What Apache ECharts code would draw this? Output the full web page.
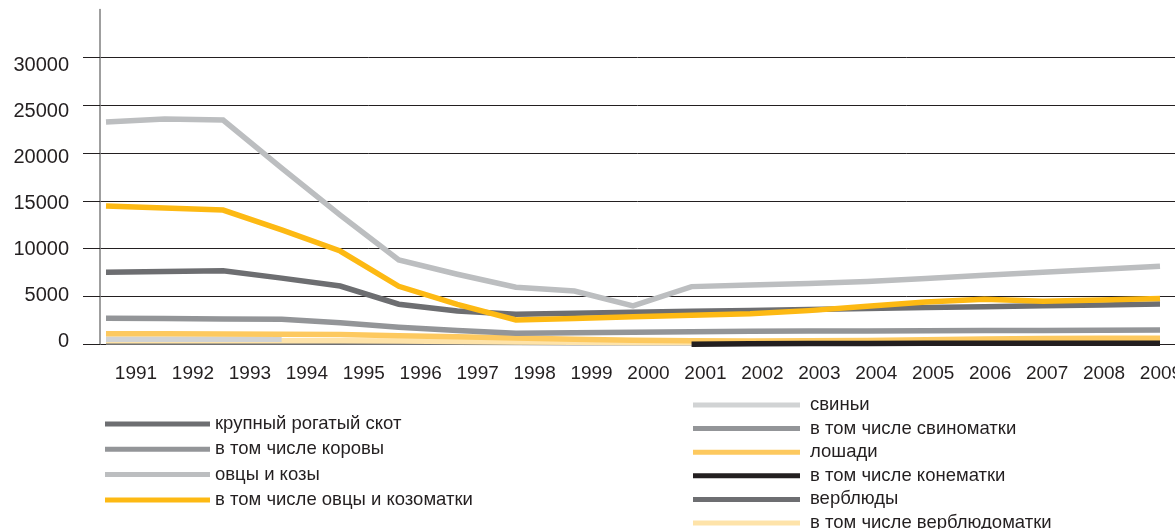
<!DOCTYPE html>
<html><head><meta charset="utf-8">
<script src="https://cdn.jsdelivr.net/npm/echarts@6/dist/echarts.min.js"></script>
<style>html,body{margin:0;padding:0;background:#fff}#c{width:1175px;height:529px}</style>
</head><body><div id="c"></div>
<script>
const years = ['1991','1992','1993','1994','1995','1996','1997','1998','1999','2000','2001','2002','2003','2004','2005','2006','2007','2008','2009'];
const yTicks = [0, 5000, 10000, 15000, 20000, 25000, 30000];

const cattle     = [7520, 7600, 7690, 6920, 6090, 4190, 3480, 3140, 3250, 3340, 3450, 3540, 3640, 3740, 3840, 3930, 4020, 4120, 4210];
const cows       = [2720, 2690, 2650, 2620, 2250, 1790, 1450, 1160, 1220, 1260, 1310, 1360, 1390, 1400, 1410, 1430, 1450, 1470, 1490];
const sheepGoats = [23230, 23540, 23440, 18420, 13510, 8810, 7320, 5970, 5570, 4010, 6030, 6200, 6360, 6570, 6890, 7210, 7530, 7850, 8170];
const ewes       = [14450, 14240, 14030, 11960, 9750, 6060, 4180, 2540, 2710, 2870, 3040, 3200, 3520, 3970, 4410, 4700, 4500, 4630, 4790];
const pigs       = [530, 530, 530, 530, null, null, null, null, null, null, null, null, null, null, null, null, null, null, null];
const sows       = [250, 250, 240, 240, 230, 220, 210, 200, 190, 180, 180, 180, 190, 190, 200, 200, 200, 210, 210];
const horses     = [1100, 1090, 1080, 1060, 1020, 900, 780, 650, 520, 430, 380, 350, 360, 400, 480, 550, 600, 620, 630];
const mares      = [null, null, null, null, null, null, null, null, null, null, 10, 50, 80, 95, 100, 105, 105, 110, 110];
const camels     = [260, 255, 250, 245, 240, 230, 220, 210, 200, 190, 190, 190, 200, 200, 210, 210, 220, 220, 230];
const sheCamels  = [370, 370, 365, 365, 360, 350, 300, 250, 220, 200, 190, 190, 190, 200, 200, 210, 210, 220, 220];

const names = ['крупный рогатый скот', 'в том числе коровы', 'овцы и козы', 'в том числе овцы и козоматки',
  'свиньи', 'в том числе свиноматки', 'лошади', 'в том числе конематки', 'верблюды', 'в том числе верблюдоматки'];
const colors = ['#6d6e71', '#939598', '#bcbec0', '#fdb913', '#d1d3d4', '#939598', '#fdc95f', '#231f20', '#6d6e71', '#fee3a9'];
const values = [cattle, cows, sheepGoats, ewes, pigs, sows, horses, mares, camels, sheCamels];
// drawing order (bottom to top)
const drawOrder = [5, 8, 9, 4, 6, 7, 1, 0, 2, 3];

const FONT = '"Liberation Sans", Arial, sans-serif';
const TXT = '#231f20';

function pairs(arr) {
  const out = [];
  arr.forEach((v, i) => { if (v !== null) out.push([Number(years[i]), v]); });
  return out;
}

const pxPerYear = 1054 / 18;
const xMin = Number(years[0]) - 6 / pxPerYear;
const xMax = xMin + 1075 / pxPerYear;

const series = drawOrder.map(k => ({
  name: names[k],
  type: 'line',
  xAxisIndex: 0, yAxisIndex: 0,
  data: pairs(values[k]),
  symbol: 'none', showSymbol: false,
  color: colors[k],
  itemStyle: { color: colors[k] },
  lineStyle: { color: colors[k], width: 5.5, cap: 'butt', join: 'miter' },
  emphasis: { disabled: true },
  animation: false
}));

const legendText = { fontSize: 18.5, lineHeight: 20, color: TXT, fontFamily: FONT };

const chart = echarts.init(document.getElementById('c'), null, { renderer: 'canvas' });
chart.setOption({
  backgroundColor: '#ffffff',
  animation: false,
  textStyle: { fontFamily: FONT },
  grid: [
    { left: 100, right: 0, top: 9.5, bottom: 184.7, outerBoundsMode: 'none', containLabel: false },
    { left: 136, right: 14, top: 65.8, bottom: 188, outerBoundsMode: 'none', containLabel: false }
  ],
  xAxis: [
    { type: 'value', gridIndex: 0, min: xMin, max: xMax,
      axisLine: { show: false }, axisTick: { show: false }, axisLabel: { show: false }, splitLine: { show: false } },
    { type: 'category', gridIndex: 1, data: years, boundaryGap: false,
      axisLine: { show: false }, axisTick: { show: false }, splitLine: { show: false },
      axisLabel: { fontSize: 19, color: TXT, fontFamily: FONT, margin: 23.5, interval: 0 } }
  ],
  yAxis: [
    { type: 'value', gridIndex: 0, min: 0, max: 35000, interval: 5000,
      axisLine: { show: true, lineStyle: { color: '#7f7f7f', width: 1.5 } },
      axisTick: { show: true, customValues: yTicks, length: 17, inside: false, lineStyle: { color: TXT, width: 1 } },
      axisLabel: { show: false },
      splitLine: { show: true, lineStyle: { color: TXT, width: 1 } } },
    { type: 'value', gridIndex: 1, min: yTicks[0], max: yTicks[yTicks.length - 1], interval: 5000,
      axisLine: { show: false }, axisTick: { show: false }, splitLine: { show: false },
      axisLabel: { fontSize: 20, color: TXT, fontFamily: FONT, margin: 67, customValues: yTicks,
        formatter: v => String(v) } }
  ],
  legend: [
    { data: names.slice(0, 4), orient: 'vertical', left: 105, top: 414, height: 160, padding: 0,
      icon: 'rect', itemWidth: 105, itemHeight: 5, itemGap: 5.3, selectedMode: false,
      textStyle: legendText },
    { data: names.slice(4), orient: 'vertical', left: 693, top: 395, height: 160, padding: 0,
      icon: 'rect', itemWidth: 107, itemHeight: 5, itemGap: 3.6, selectedMode: false,
      textStyle: Object.assign({}, legendText, { padding: [0, 0, 0, 5] }) }
  ],
  series: series
});
</script>
</body></html>
